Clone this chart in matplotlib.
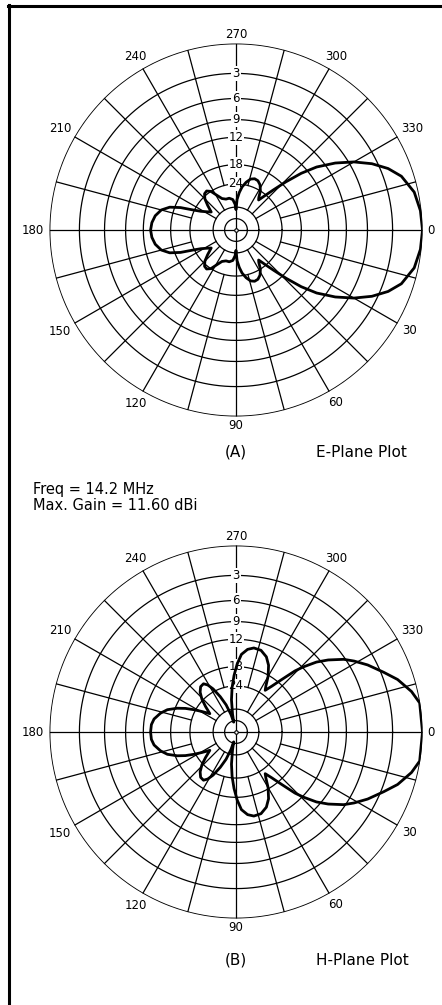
import numpy as np
import matplotlib.pyplot as plt
from matplotlib.lines import Line2D

# pattern values (deg, dB rel. max), 0..180, mirrored for 180..360
ang_e = [0, 6, 12, 18, 22, 26, 30, 34, 38, 41, 44, 47, 50, 53, 55, 58, 62, 66, 70, 74,
         78, 82, 85, 88, 90, 92, 96, 102, 108, 114, 119, 123, 127, 131, 135, 139, 144,
         148, 152, 155, 158, 161, 165, 170, 175, 180]
db_e = [0, -0.1, -0.4, -1.2, -2.2, -3.6, -5.4, -7.6, -10.3, -13.2, -17.0, -21.0, -24.5,
        -27.5, -26.5, -24.0, -22.2, -21.3, -21.1, -21.6, -23.0, -25.0, -27.5, -31.0, -38.0,
        -34.0, -31.0, -30.0, -30.0, -29.0, -26.5, -24.0, -23.0, -23.3, -24.8, -27.5, -31.0,
        -29.0, -26.5, -23.5, -19.5, -16.8, -15.1, -14.1, -13.6, -13.4]

ang_h = [0, 9, 13, 18, 22, 27, 31, 34, 38, 41, 44, 46, 49, 52, 55, 57, 60, 64, 68, 73,
         78, 82, 86, 89, 92, 95, 98, 101, 103, 106, 110, 114, 118, 121, 124, 128, 132, 136,
         140, 145, 149, 152, 155, 158, 162, 166, 171, 175, 180]
db_h = [0, -0.05, -0.6, -1.6, -2.7, -4.0, -5.2, -6.2, -8.0, -9.6, -11.8, -13.5, -17.0,
        -20.0, -22.3, -21.0, -18.3, -15.8, -14.3, -13.4, -13.3, -13.8, -15.0, -17.3, -20.5,
        -24.5, -30.0, -40.0, -50.0, -40.0, -32.0, -27.0, -23.0, -21.0, -20.0, -20.2, -21.4,
        -23.5, -26.5, -30.3, -26.5, -23.5, -20.7, -18.5, -16.3, -15.0, -13.9, -13.5, -13.4]

ring_db = [0, -3, -6, -9, -12, -18, -24]
inner_db = [-36, -48]
ring_labels = ['3', '6', '9', '12', '18', '24']
theta_labels = [0, 30, 60, 90, 120, 150, 180, 210, 240, 270, 300, 330]

W, H = 442, 1005
R = 186.5  # outer ring radius in px


def arrl(db):
    # ARRL log-periodic radial scale
    return 0.89 ** (-np.asarray(db, dtype=float) / 2.0)


def polar_plot(cy, ang, db):
    ax = fig.add_axes([(236 - R) / W, 1 - (cy + R) / H, 2 * R / W, 2 * R / H],
                      projection='polar')
    ax.set_theta_zero_location('E')
    ax.set_theta_direction(-1)
    ax.set_ylim(0, 1)
    ax.axis('off')

    tt = np.linspace(0, 2 * np.pi, 721)
    for d in ring_db + inner_db:
        ax.plot(tt, np.full_like(tt, arrl(d)), color='k', lw=1.25 if d == 0 else 0.9, zorder=2)
    # radials every 15 deg
    for a in range(0, 360, 15):
        if a % 90 == 0:
            r0 = 0
        elif a % 30 == 0 or a % 45 == 0:
            r0 = arrl(-36)
        else:
            r0 = arrl(-24)
        ax.plot([np.deg2rad(a)] * 2, [r0, 1], color='k', lw=0.9, zorder=2)
    ax.plot([0], [0], 'o', ms=2.5, mfc='white', mec='k', mew=0.8, zorder=5)

    for d, lab in zip(ring_db[1:], ring_labels):
        ax.text(np.deg2rad(270), arrl(d), lab, ha='center', va='center', fontsize=8.5,
                bbox=dict(fc='white', ec='none', pad=0.6), zorder=3)

    for a in theta_labels:
        s = str(a)
        w, h = 7.5 * len(s), 8.6
        t = np.deg2rad(a)
        rl = 1 + (5 + 0.5 * w * abs(np.cos(t)) + 0.5 * h * abs(np.sin(t))) / R
        ax.text(t, rl, s, ha='center', va='center', fontsize=8.5)

    ang = np.asarray(ang, dtype=float)
    db = np.asarray(db, dtype=float)
    th = np.deg2rad(np.concatenate([ang, 360 - ang[::-1]]))
    rr = arrl(np.concatenate([db, db[::-1]]))
    ax.plot(th, rr, color='k', lw=2.0, zorder=4, solid_joinstyle='round')
    return ax


fig = plt.figure(figsize=(W / 100, H / 100), dpi=100)

# frame (top and left edges)
fig.add_artist(Line2D([8 / W, 1], [1 - 6.5 / H] * 2, color='k', lw=2.2, transform=fig.transFigure))
fig.add_artist(Line2D([9 / W] * 2, [1 - 5.5 / H, 0], color='k', lw=2.2, transform=fig.transFigure))

polar_plot(230, ang_e, db_e)
polar_plot(732, ang_h, db_h)

fig.text(236 / W, 1 - 452 / H, '(A)', ha='center', va='center', fontsize=11)
fig.text(316 / W, 1 - 452 / H, 'E-Plane Plot', ha='left', va='center', fontsize=11)
fig.text(33 / W, 1 - 489 / H, 'Freq = 14.2 MHz', ha='left', va='center', fontsize=10.5)
fig.text(33 / W, 1 - 505 / H, 'Max. Gain = 11.60 dBi', ha='left', va='center', fontsize=10.5)
fig.text(236 / W, 1 - 960 / H, '(B)', ha='center', va='center', fontsize=11)
fig.text(316 / W, 1 - 960 / H, 'H-Plane Plot', ha='left', va='center', fontsize=11)

fig.savefig('out.png', dpi=100, facecolor='white')
